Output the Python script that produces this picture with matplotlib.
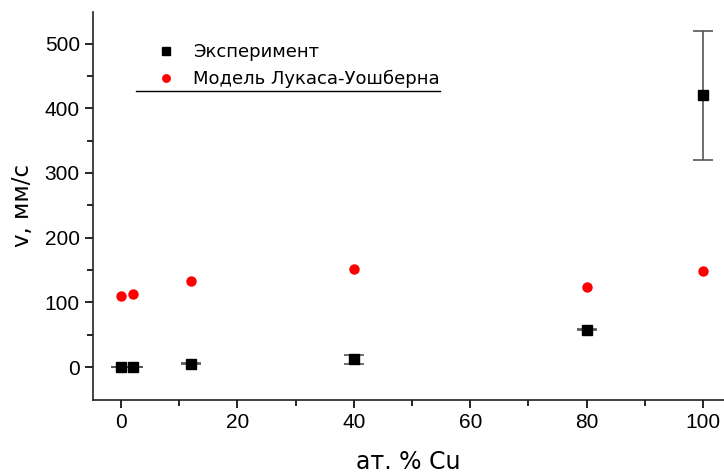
import matplotlib.pyplot as plt
import numpy as np

plt.rcParams['font.family'] = ['Liberation Sans', 'DejaVu Sans']

cu = [0, 2, 12, 40, 80, 100]
v_exp = [0, 0, 5, 12, 58, 420]
v_err = [0.5, 0.5, 0.5, 7, 0.5, 100]
cu_model = [0, 2, 12, 40, 80, 100]
v_model = [110, 113, 133, 151, 124, 149]
labels = ['Эксперимент', 'Модель Лукаса-Уошберна']

fig = plt.figure(figsize=(7.24, 4.74), dpi=100)
ax = fig.add_axes([0.1285, 0.156, 0.8715, 0.819])

eb = ax.errorbar(cu, v_exp, yerr=v_err, fmt='s', color='black', ms=7,
                 ecolor='#555555', elinewidth=1.2, capsize=7, capthick=1.2,
                 zorder=3)
mod, = ax.plot(cu_model, v_model, 'o', color='red', ms=7.5, mec='none', zorder=3)

ax.set_xlim(-4.8, 103.6)
ax.set_ylim(-51, 549)
ax.set_xticks(np.arange(0, 101, 20))
ax.set_xticks(np.arange(10, 101, 20), minor=True)
ax.set_yticks(np.arange(0, 501, 100))
ax.set_yticks(np.arange(50, 501, 100), minor=True)

for s in ['top', 'right']:
    ax.spines[s].set_visible(False)
for s in ['left', 'bottom']:
    ax.spines[s].set_linewidth(1.2)
    ax.spines[s].set_color('#222222')

ax.tick_params(which='major', length=6, width=1.2, labelsize=15, direction='out')
ax.tick_params(which='minor', length=4, width=1.2, direction='out')

ax.set_xlabel('ат. % Cu', fontsize=17, family='DejaVu Sans', labelpad=13)
ax.set_ylabel('v, мм/с', fontsize=16.5, family='DejaVu Sans', labelpad=8)

leg = ax.legend([eb.lines[0], mod], labels, loc='upper left',
                bbox_to_anchor=(0.075, 0.962), frameon=False,
                prop={'family': 'DejaVu Sans', 'size': 13}, markerscale=0.85,
                handlelength=1.0, handletextpad=1.0, labelspacing=0.5)
ax.axhline(427, xmin=0.068, xmax=0.55, color='black', lw=1)

fig.savefig('out.png', dpi=100)
